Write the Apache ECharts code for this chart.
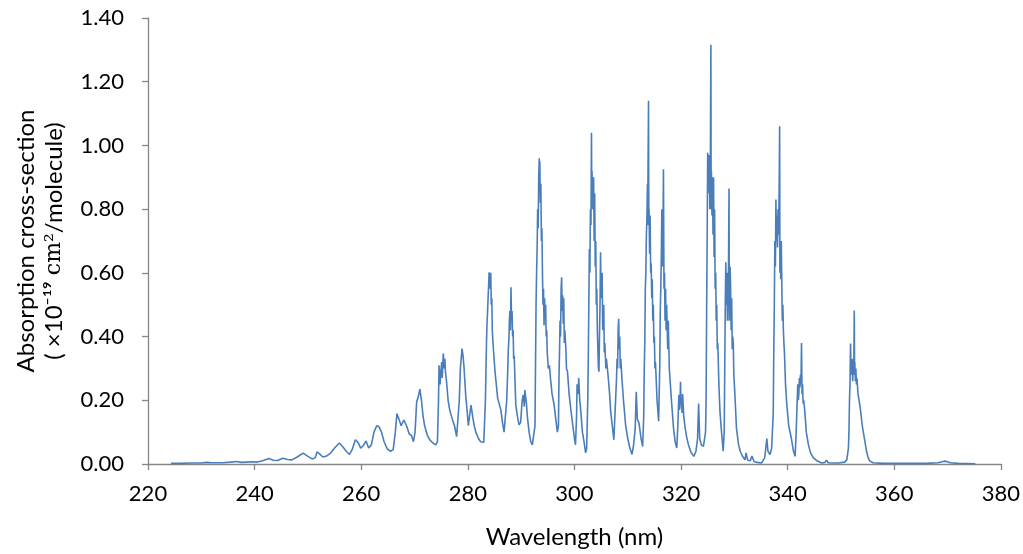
<!DOCTYPE html>
<html>
<head>
<meta charset="utf-8">
<script src="https://cdn.jsdelivr.net/npm/echarts@6/dist/echarts.min.js"></script>
<style>html,body{margin:0;padding:0;background:#fff}#chart{width:1023px;height:554px}</style>
</head>
<body>
<div id="chart"></div>
<script>
const xTicks = [220, 240, 260, 280, 300, 320, 340, 360, 380];
const yTicks = [0, 0.2, 0.4, 0.6, 0.8, 1.0, 1.2, 1.4];
const xTitle = "Wavelength (nm)";
const yTitleLine1 = "Absorption cross-section";

// [wavelength (nm), cross-section (x1e-19 cm2/molecule)]
const spectrum = [
[224.3,0.002],[226,0.002],[228,0.003],[230,0.003],[231,0.005],[232,0.004],[234,0.004],[235.5,0.006],[236.6,0.008],[237.5,0.005],[238.5,0.006],[239.7,0.007],[240.5,0.006],[241.5,0.010],[242.7,0.017],[243.5,0.012],[244.3,0.011],[245.3,0.018],[246.2,0.014],[247,0.013],[248,0.022],[249.1,0.034],[250,0.024],[250.8,0.016],[251.4,0.020],[251.7,0.038],[252.3,0.030],[252.8,0.022],[253.5,0.025],[254.3,0.035],[255,0.050],[255.9,0.066],[256.5,0.055],[257.2,0.040],[257.8,0.030],[258.3,0.045],[258.9,0.076],[259.4,0.068],[259.9,0.050],[260.4,0.058],[260.9,0.072],[261.4,0.050],[261.9,0.060],[262.4,0.100],[262.9,0.120],[263.3,0.118],[263.8,0.100],[264.3,0.070],[264.9,0.047],[265.5,0.040],[266,0.045],[266.4,0.100],[266.7,0.158],[267.1,0.140],[267.5,0.120],[268,0.138],[268.5,0.120],[269,0.095],[269.4,0.090],[269.8,0.070],[270.1,0.100],[270.4,0.195],[270.7,0.210],[271,0.235],[271.3,0.200],[271.6,0.150],[271.9,0.120],[272.4,0.090],[272.9,0.075],[273.5,0.065],[274,0.060],[274.3,0.070],[274.5,0.200],[274.6,0.310],[274.8,0.250],[274.9,0.280],[275.1,0.320],[275.2,0.270],[275.4,0.347],[275.6,0.300],[275.7,0.330],[275.8,0.290],[276,0.260],[276.3,0.200],[276.6,0.170],[277.1,0.140],[277.5,0.120],[277.9,0.086],[278.2,0.080],[278.4,0.200],[278.6,0.300],[278.8,0.340],[278.9,0.362],[279.1,0.340],[279.3,0.300],[279.6,0.217],[279.9,0.160],[280.1,0.120],[280.4,0.160],[280.6,0.185],[280.9,0.150],[281.2,0.120],[281.5,0.100],[282,0.080],[282.4,0.070],[283,0.068],[283.3,0.200],[283.5,0.380],[283.6,0.440],[283.7,0.477],[283.8,0.520],[283.9,0.560],[284,0.602],[284.1,0.550],[284.2,0.580],[284.3,0.600],[284.4,0.500],[284.5,0.520],[284.6,0.415],[284.7,0.420],[284.8,0.360],[285.1,0.290],[285.4,0.240],[285.6,0.206],[285.9,0.200],[286.2,0.170],[286.5,0.130],[286.8,0.100],[287.1,0.100],[287.3,0.200],[287.5,0.300],[287.6,0.360],[287.7,0.390],[287.8,0.450],[287.9,0.480],[288,0.420],[288.1,0.555],[288.2,0.450],[288.3,0.480],[288.4,0.400],[288.5,0.420],[288.6,0.330],[288.7,0.340],[289,0.185],[289.3,0.150],[289.6,0.123],[289.9,0.130],[290.2,0.200],[290.4,0.217],[290.6,0.180],[290.7,0.232],[291,0.190],[291.2,0.143],[291.5,0.100],[291.8,0.070],[292.1,0.060],[292.4,0.055],[292.6,0.120],[292.7,0.310],[292.8,0.500],[292.9,0.600],[293,0.675],[293.1,0.800],[293.2,0.740],[293.3,0.900],[293.4,0.960],[293.45,0.860],[293.5,0.950],[293.6,0.820],[293.7,0.880],[293.8,0.700],[293.9,0.740],[294,0.600],[294.1,0.500],[294.2,0.550],[294.3,0.435],[294.4,0.520],[294.5,0.460],[294.6,0.500],[294.7,0.400],[294.8,0.420],[294.9,0.350],[295.1,0.300],[295.3,0.310],[295.5,0.270],[295.8,0.220],[296.2,0.185],[296.5,0.140],[296.8,0.100],[297,0.120],[297.1,0.270],[297.2,0.350],[297.3,0.450],[297.4,0.400],[297.5,0.550],[297.6,0.586],[297.7,0.480],[297.8,0.530],[297.9,0.440],[298,0.520],[298.1,0.380],[298.2,0.420],[298.4,0.360],[298.5,0.300],[298.7,0.290],[299,0.220],[299.3,0.175],[299.7,0.120],[300,0.080],[300.2,0.060],[300.4,0.150],[300.5,0.250],[300.7,0.220],[300.8,0.270],[301,0.200],[301.2,0.165],[301.5,0.100],[301.8,0.070],[302.1,0.035],[302.3,0.050],[302.5,0.200],[302.6,0.330],[302.7,0.500],[302.8,0.675],[302.9,0.600],[303,0.800],[303.1,0.750],[303.2,1.040],[303.25,0.850],[303.3,0.920],[303.4,0.800],[303.5,0.870],[303.6,0.900],[303.7,0.700],[303.8,0.850],[303.9,0.620],[304,0.700],[304.1,0.500],[304.2,0.550],[304.3,0.420],[304.5,0.300],[304.6,0.290],[304.7,0.400],[304.8,0.500],[304.9,0.665],[305,0.520],[305.1,0.580],[305.2,0.600],[305.3,0.420],[305.4,0.450],[305.5,0.500],[305.6,0.350],[305.7,0.380],[305.9,0.300],[306,0.330],[306.3,0.280],[306.6,0.220],[306.8,0.165],[307.1,0.120],[307.4,0.076],[307.7,0.080],[307.9,0.270],[308,0.330],[308.1,0.300],[308.2,0.420],[308.3,0.456],[308.4,0.360],[308.5,0.400],[308.6,0.300],[308.7,0.330],[308.9,0.270],[309.2,0.200],[309.6,0.123],[310,0.080],[310.4,0.050],[310.8,0.030],[311.1,0.060],[311.4,0.112],[311.6,0.227],[311.8,0.140],[312.1,0.130],[312.5,0.080],[312.8,0.055],[313,0.150],[313.1,0.300],[313.2,0.380],[313.3,0.550],[313.4,0.600],[313.5,0.720],[313.6,0.770],[313.7,0.880],[313.75,0.750],[313.8,0.900],[313.9,1.140],[313.95,0.780],[314,0.800],[314.1,0.660],[314.2,0.780],[314.3,0.600],[314.4,0.630],[314.5,0.520],[314.6,0.580],[314.7,0.450],[314.8,0.500],[314.9,0.380],[315,0.400],[315.1,0.300],[315.2,0.320],[315.5,0.200],[315.8,0.134],[316,0.300],[316.1,0.477],[316.2,0.550],[316.3,0.650],[316.4,0.800],[316.5,0.620],[316.6,0.700],[316.7,0.925],[316.8,0.550],[316.9,0.600],[317,0.450],[317.1,0.550],[317.2,0.420],[317.3,0.500],[317.4,0.430],[317.5,0.360],[317.6,0.450],[317.8,0.300],[318,0.250],[318.2,0.200],[318.6,0.110],[318.9,0.070],[319.2,0.050],[319.4,0.120],[319.6,0.217],[319.7,0.170],[319.8,0.180],[319.9,0.258],[320,0.190],[320.1,0.200],[320.2,0.160],[320.3,0.220],[320.5,0.150],[320.8,0.110],[321.1,0.080],[321.4,0.060],[321.9,0.035],[322.4,0.024],[322.8,0.040],[323.1,0.080],[323.3,0.190],[323.5,0.080],[323.8,0.060],[324.2,0.055],[324.5,0.050],[324.6,0.100],[324.7,0.200],[324.8,0.477],[324.9,0.700],[325,0.977],[325.05,0.850],[325.1,0.950],[325.2,0.880],[325.3,0.970],[325.4,0.800],[325.5,0.950],[325.6,1.316],[325.65,0.800],[325.7,0.920],[325.8,0.780],[325.9,0.900],[326,0.720],[326.1,0.900],[326.2,0.650],[326.3,0.800],[326.4,0.550],[326.5,0.600],[326.6,0.450],[326.7,0.500],[326.8,0.360],[326.9,0.380],[327.1,0.250],[327.3,0.165],[327.6,0.100],[327.9,0.040],[328.1,0.100],[328.2,0.300],[328.3,0.500],[328.4,0.633],[328.5,0.500],[328.6,0.600],[328.7,0.450],[328.8,0.550],[328.9,0.600],[329,0.865],[329.05,0.450],[329.1,0.500],[329.2,0.620],[329.3,0.550],[329.4,0.420],[329.5,0.520],[329.6,0.360],[329.7,0.400],[329.8,0.380],[329.9,0.280],[330.1,0.220],[330.4,0.112],[330.8,0.060],[331.1,0.040],[331.5,0.025],[332,0.013],[332.2,0.035],[332.5,0.012],[333,0.010],[333.3,0.025],[333.7,0.008],[334.3,0.005],[335.1,0.003],[335.7,0.020],[336.1,0.080],[336.3,0.040],[336.7,0.030],[337,0.050],[337.3,0.160],[337.4,0.350],[337.5,0.500],[337.6,0.700],[337.7,0.620],[337.8,0.830],[337.9,0.700],[338,0.780],[338.1,0.680],[338.2,0.800],[338.3,0.720],[338.4,0.850],[338.5,1.060],[338.55,0.600],[338.6,0.700],[338.7,0.580],[338.8,0.700],[338.9,0.570],[339,0.450],[339.1,0.500],[339.2,0.420],[339.3,0.380],[339.4,0.350],[339.6,0.250],[339.8,0.196],[340.2,0.120],[340.7,0.080],[341.1,0.040],[341.4,0.024],[341.6,0.100],[341.8,0.200],[341.9,0.250],[342,0.200],[342.1,0.220],[342.2,0.270],[342.3,0.240],[342.4,0.280],[342.5,0.250],[342.6,0.380],[342.7,0.220],[342.8,0.250],[342.9,0.190],[343,0.200],[343.2,0.170],[343.5,0.100],[343.9,0.060],[344.3,0.035],[344.8,0.020],[345.5,0.010],[346.4,0.003],[347,0.005],[347.3,0.012],[347.6,0.004],[348.5,0.003],[349.5,0.003],[350.7,0.006],[351.1,0.013],[351.4,0.050],[351.5,0.100],[351.6,0.200],[351.7,0.250],[351.8,0.378],[351.9,0.280],[352,0.300],[352.1,0.330],[352.2,0.260],[352.3,0.300],[352.4,0.280],[352.5,0.482],[352.55,0.300],[352.6,0.320],[352.7,0.260],[352.8,0.300],[352.9,0.250],[353,0.270],[353.1,0.274],[353.2,0.220],[353.4,0.200],[353.7,0.165],[354,0.120],[354.2,0.100],[354.5,0.070],[354.8,0.040],[355.1,0.020],[355.4,0.010],[356,0.004],[358,0.002],[362,0.002],[366,0.002],[368.2,0.004],[369,0.007],[369.5,0.009],[370,0.007],[370.5,0.004],[372,0.002],[375.2,0.001]
];

const font = "Lato, 'Open Sans', sans-serif";
const axisGray = '#868686';

const chart = echarts.init(document.getElementById('chart'), null, {renderer: 'canvas'});
chart.setOption({
  animation: false,
  backgroundColor: '#ffffff',
  grid: {left: 148, right: 20, top: 18, bottom: 88, containLabel: false},
  xAxis: {
    type: 'value',
    min: xTicks[0], max: xTicks[xTicks.length - 1], interval: xTicks[1] - xTicks[0],
    name: xTitle, nameLocation: 'middle', nameGap: 61,
    nameTextStyle: {fontFamily: font, fontSize: 24, color: '#000'},
    axisLine: {lineStyle: {color: axisGray, width: 1.3}},
    axisTick: {show: true, inside: false, length: 6, lineStyle: {color: axisGray, width: 1.3}},
    axisLabel: {fontFamily: font, fontSize: 22, color: '#000', margin: 19},
    splitLine: {show: false}
  },
  yAxis: {
    type: 'value',
    min: yTicks[0], max: yTicks[yTicks.length - 1], interval: 0.2,
    name: '{a|' + yTitleLine1 + '}\n{b|( ×10⁻¹⁹ }{s|cm²}{b|/molecule)}',
    nameLocation: 'middle', nameGap: 80, nameRotate: 90,
    nameTextStyle: {
      fontFamily: font, fontSize: 24, color: '#000', lineHeight: 28,
      rich: {
        a: {fontFamily: font, fontSize: 24, color: '#000', lineHeight: 28},
        b: {fontFamily: font, fontSize: 24, color: '#000', lineHeight: 28},
        s: {fontFamily: "'DejaVu Serif', 'Liberation Serif', serif", fontSize: 22, color: '#000', lineHeight: 28}
      }
    },
    axisLine: {show: true, lineStyle: {color: axisGray, width: 1.3}},
    axisTick: {show: true, inside: false, length: 6, lineStyle: {color: axisGray, width: 1.3}},
    axisLabel: {fontFamily: font, fontSize: 22, color: '#000', margin: 24,
      formatter: v => v.toFixed(2)},
    splitLine: {show: false}
  },
  series: [{
    type: 'line',
    data: spectrum,
    showSymbol: false,
    symbol: 'none',
    lineStyle: {color: '#4a7ebb', width: 1.6},
    itemStyle: {color: '#4a7ebb'}
  }]
});
</script>
</body>
</html>
